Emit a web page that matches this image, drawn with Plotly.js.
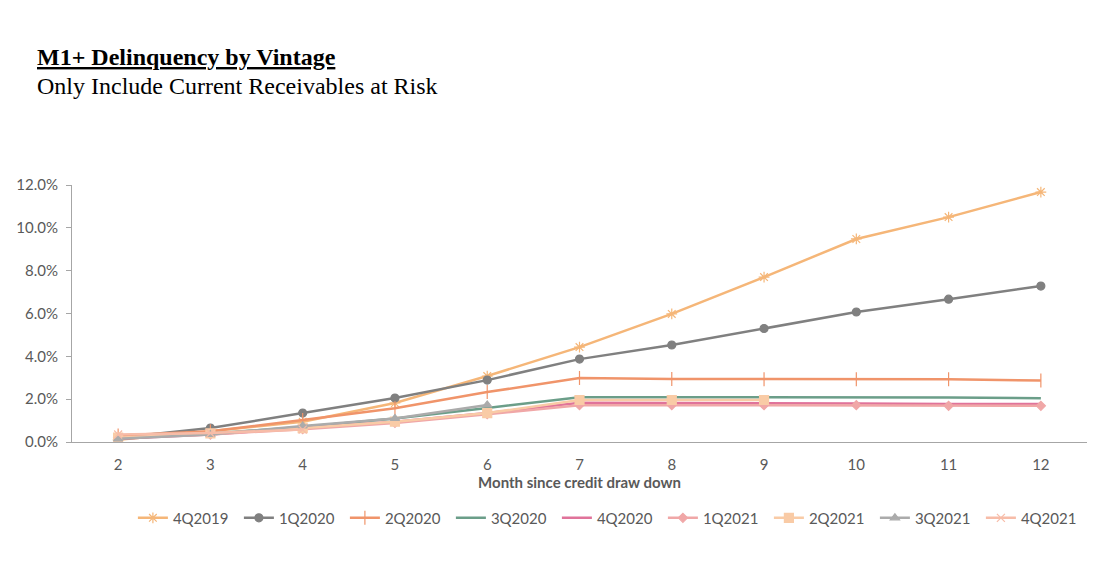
<!DOCTYPE html>
<html>
<head>
<meta charset="utf-8">
<script src="https://cdn.plot.ly/plotly-3.0.1.min.js"></script>
<style>html,body{margin:0;padding:0;background:#fff;}#chart{width:1109px;height:581px;}</style>
</head>
<body>
<div id="chart"></div>
<script>
var months = [2, 3, 4, 5, 6, 7, 8, 9, 10, 11, 12];
var monthLabels = ["2","3","4","5","6","7","8","9","10","11","12"];
var vintages = ["4Q2019","1Q2020","2Q2020","3Q2020","4Q2020","1Q2021","2Q2021","3Q2021","4Q2021"];
var v4Q2019 = [0.10, 0.50, 0.95, 1.82, 3.08, 4.43, 5.98, 7.70, 9.48, 10.50, 11.67];
var v1Q2020 = [0.20, 0.65, 1.35, 2.05, 2.89, 3.87, 4.53, 5.30, 6.07, 6.67, 7.28];
var v2Q2020 = [0.30, 0.50, 1.03, 1.58, 2.33, 2.99, 2.94, 2.93, 2.93, 2.93, 2.87];
var v3Q2020 = [0.15, 0.40, 0.70, 1.10, 1.59, 2.09, 2.09, 2.09, 2.09, 2.08, 2.04];
var v4Q2020 = [0.15, 0.35, 0.65, 0.95, 1.35, 1.83, 1.82, 1.82, 1.80, 1.77, 1.77];
var v1Q2021 = [0.20, 0.35, 0.60, 0.89, 1.30, 1.72, 1.72, 1.72, 1.72, 1.69, 1.69];
var v2Q2021 = [0.20, 0.40, 0.65, 0.95, 1.35, 1.96, 1.96, 1.96];
var v3Q2021 = [0.15, 0.35, 0.75, 1.10, 1.73];
var v4Q2021 = [0.35, 0.42, 0.58];

var seriesValues = [v4Q2019, v1Q2020, v2Q2020, v3Q2020, v4Q2020, v1Q2021, v2Q2021, v3Q2021, v4Q2021];
var colors = ["#F5B678","#808080","#F0946A","#6B9E89","#E0739A","#F0A7A7","#F9CBA6","#ABABAB","#F7BCA8"];
var symbols = ["asterisk-open","circle","line-ns-open","circle","circle","diamond","square","triangle-up","x-thin-open"];
var sizes = [9, 8, 10, 0, 0, 7, 9, 8, 8];

var traces = vintages.map(function(name, i){
  var vals = seriesValues[i];
  return {
    type: "scatter",
    mode: sizes[i] > 0 ? "lines+markers" : "lines",
    name: name,
    x: months.slice(0, vals.length),
    y: vals.map(function(v){ return v / 100; }),
    line: {color: colors[i], width: 2.5},
    marker: {symbol: symbols[i], size: sizes[i], color: colors[i], line: {color: colors[i], width: 1.2}}
  };
});

var layout = {
  width: 1109, height: 581,
  paper_bgcolor: "#fff", plot_bgcolor: "#fff",
  margin: {l: 72, r: 22, t: 185, b: 139, autoexpand: false},
  showlegend: true,
  font: {family: "Lato, 'Open Sans', sans-serif", color: "#595959", size: 14},
  xaxis: {
    range: [1.5, 12.5],
    tickvals: months, ticktext: monthLabels,
    showgrid: false, zeroline: false,
    showline: true, linecolor: "#A6A6A6", linewidth: 1,
    ticks: "", ticklabelstandoff: 9,
    tickfont: {size: 15, color: "#595959"},
    title: {text: "<b>Month since credit draw down</b>", font: {size: 15, color: "#595959"}, standoff: 0}
  },
  yaxis: {
    range: [0, 0.12], dtick: 0.02, tickformat: ".1%",
    showgrid: false, zeroline: false,
    showline: true, linecolor: "#A6A6A6", linewidth: 1,
    ticks: "outside", ticklen: 5, tickcolor: "#A6A6A6",
    ticklabelstandoff: 5,
    tickfont: {size: 15, color: "#595959"}
  },
  legend: {
    orientation: "h", x: 0.06, xanchor: "left", y: -0.296, yanchor: "middle",
    font: {size: 15, color: "#595959"},
    entrywidth: 61, entrywidthmode: "pixels",
    itemwidth: 30
  },
  annotations: [
    {xref: "paper", yref: "paper", x: -0.0365, y: 1.498, xanchor: "left", yanchor: "middle",
     showarrow: false, text: "<b><u>M1+ Delinquency by Vintage</u></b>",
     font: {family: "'Liberation Serif', 'Times New Roman', serif", size: 24, color: "#000"}},
    {xref: "paper", yref: "paper", x: -0.0365, y: 1.385, xanchor: "left", yanchor: "middle",
     showarrow: false, text: "Only Include Current Receivables at Risk",
     font: {family: "'Liberation Serif', 'Times New Roman', serif", size: 24, color: "#000"}}
  ]
};

Plotly.newPlot("chart", traces, layout, {displayModeBar: false, staticPlot: true});
</script>
</body>
</html>
